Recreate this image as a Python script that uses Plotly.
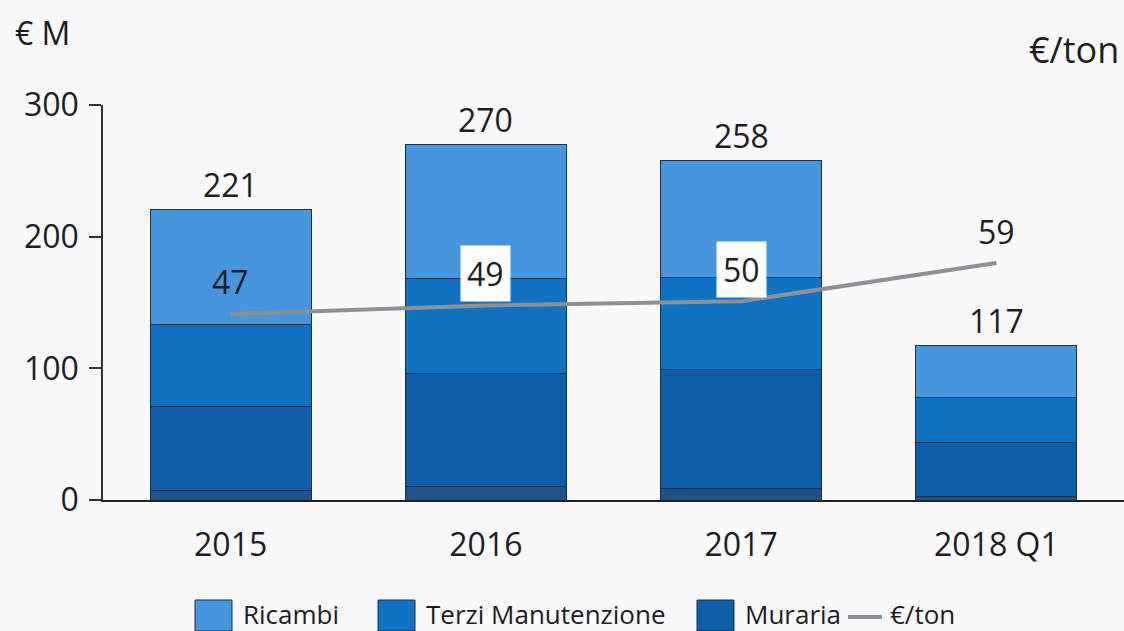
import plotly.graph_objects as go

# Data (€ M, stacked) and €/ton line
categories = ["2015", "2016", "2017", "2018 Q1"]
altro = [7, 10, 9, 3]
muraria = [64, 86, 90, 41]
terzi = [62, 72, 70, 34]
ricambi = [88, 102, 89, 39]
totals = [221, 270, 258, 117]
eur_ton = [47, 49, 50, 59]

C_RICAMBI = "#4795dc"
C_TERZI = "#1172c4"
C_MURARIA = "#0d5ea6"
C_ALTRO = "#1f5287"
C_LINE = "#8c9196"
TXT = "#1e1e1e"
FONT = "Open Sans"
BG = "#f9f9fb"

W, H = 1124, 631
ML, MR, MT, MB = 103, 0, 105, 131

fig = go.Figure()
bar_line = dict(color="#1b2f4a", width=1)
for name, vals, col in [
    ("Altro", altro, C_ALTRO),
    ("Muraria", muraria, C_MURARIA),
    ("Terzi Manutenzione", terzi, C_TERZI),
    ("Ricambi", ricambi, C_RICAMBI),
]:
    fig.add_trace(go.Bar(x=categories, y=vals, name=name, showlegend=False,
                         marker=dict(color=col, line=bar_line), width=0.63))

fig.add_trace(go.Scatter(x=categories, y=eur_ton, yaxis="y2", mode="lines",
                         line=dict(color=C_LINE, width=4), showlegend=False,
                         name="€/ton"))

annotations = []
# Totals above bars (category index positions)
for i, t in enumerate(totals):
    annotations.append(dict(x=i, y=t, xref="x", yref="y", text=str(t),
                            showarrow=False, yshift=25, yanchor="middle",
                            font=dict(family=FONT, size=32, color=TXT)))
# €/ton labels
for i, v in enumerate(eur_ton):
    boxed = i in (1, 2)
    ann = dict(x=i, y=v, xref="x", yref="y2", text=str(v),
               showarrow=False, yshift=32, yanchor="middle",
               borderpad=6,
               font=dict(family=FONT, size=32, color=TXT))
    if boxed:
        ann["bgcolor"] = "white"
    annotations.append(ann)

pw = W - ML - MR
ph = H - MT - MB


def px(xp):
    return (xp - ML) / pw


def py(yp):
    return (H - MB - yp) / ph


# Axis unit titles
annotations.append(dict(x=px(13), y=py(33), xref="paper", yref="paper",
                        text="€ M", showarrow=False, xanchor="left",
                        yanchor="middle", font=dict(family=FONT, size=32, color=TXT)))
annotations.append(dict(x=px(1121), y=py(50), xref="paper", yref="paper",
                        text="€/ton", showarrow=False, xanchor="right",
                        yanchor="middle", font=dict(family=FONT, size=36, color=TXT)))

# Legend drawn with shapes and labels
shapes = []
legend_y = 614
items = [(195, "Ricambi", C_RICAMBI), (378, "Terzi Manutenzione", C_TERZI),
         (697, "Muraria", C_MURARIA)]
for x0, label, col in items:
    shapes.append(dict(type="rect", xref="paper", yref="paper",
                       x0=px(x0), x1=px(x0 + 37), y0=py(600), y1=py(631),
                       fillcolor=col, line=dict(color="#1b2f4a", width=1)))
    annotations.append(dict(x=px(x0 + 46), y=py(legend_y), xref="paper",
                            yref="paper", text=label, showarrow=False,
                            xanchor="left", yanchor="middle", height=30,
                            font=dict(family=FONT, size=26, color=TXT)))
shapes.append(dict(type="line", xref="paper", yref="paper",
                   x0=px(848), x1=px(882), y0=py(617), y1=py(617),
                   line=dict(color=C_LINE, width=4)))
annotations.append(dict(x=px(888), y=py(legend_y), xref="paper", yref="paper",
                        text="€/ton", showarrow=False, xanchor="left",
                        yanchor="middle", height=30,
                        font=dict(family=FONT, size=26, color=TXT)))

fig.update_layout(
    width=W, height=H,
    margin=dict(l=ML, r=MR, t=MT, b=MB),
    barmode="stack",
    paper_bgcolor=BG, plot_bgcolor=BG,
    showlegend=False,
    font=dict(family=FONT, color=TXT),
    xaxis=dict(type="category", range=[-0.5, 3.5], showline=True,
               linecolor="#222", linewidth=2,
               ticks="", showgrid=False, zeroline=False,
               tickfont=dict(family=FONT, size=32, color=TXT), ticklabelstandoff=16),
    yaxis=dict(range=[0, 300], tickvals=[0, 100, 200, 300], showline=True,
               linecolor="#333", linewidth=1.5, ticks="outside", ticklen=12,
               tickcolor="#333", tickwidth=1.5, showgrid=False, zeroline=False,
               tickfont=dict(family=FONT, size=32, color=TXT), ticklabelstandoff=4),
    yaxis2=dict(range=[3.2, 96.2], overlaying="y", side="right", visible=False),
    annotations=annotations,
    shapes=shapes,
)

fig.write_html("out.html")
